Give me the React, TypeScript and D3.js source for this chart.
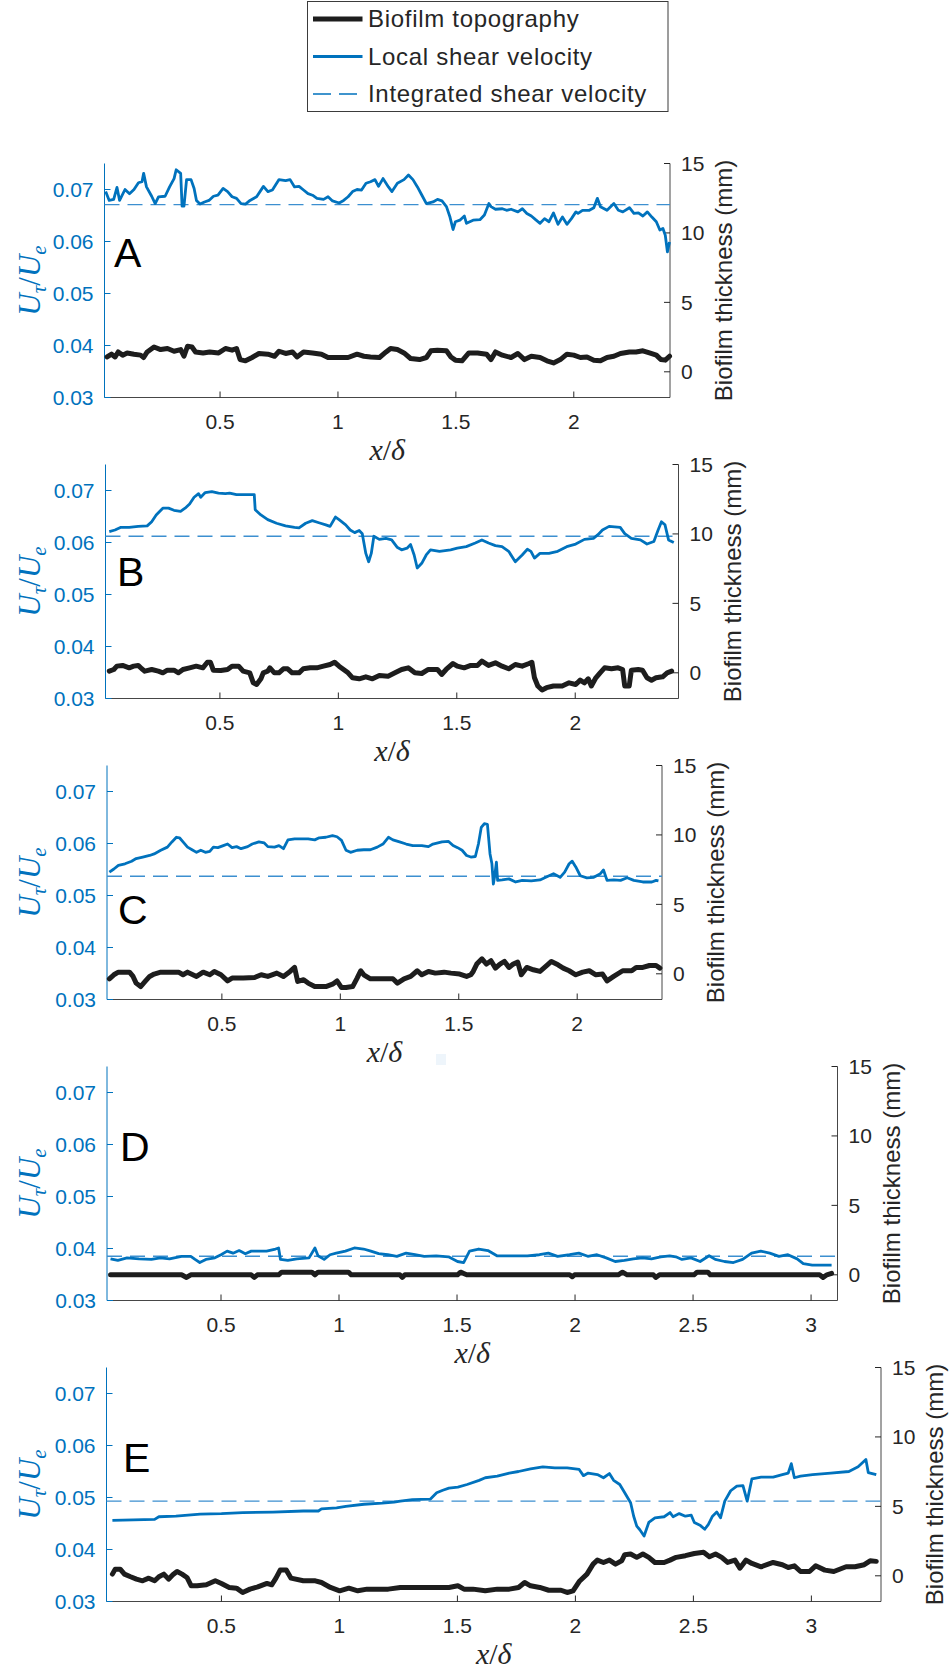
import React from "react";
import * as d3 from "d3";

type P = [number, number];

// ---------- data (x/δ, value) ----------
const aLocal: P[] = [[0.015,0.0696],[0.030,0.0679],[0.049,0.0681],[0.063,0.0704],[0.074,0.0679],[0.097,0.0700],[0.116,0.0692],[0.135,0.0700],[0.154,0.0713],[0.169,0.0715],[0.176,0.0731],[0.188,0.0705],[0.210,0.0687],[0.225,0.0673],[0.239,0.0686],[0.267,0.0687],[0.286,0.0705],[0.305,0.0721],[0.314,0.0738],[0.333,0.0731],[0.339,0.0668],[0.347,0.0668],[0.358,0.0719],[0.377,0.0719],[0.390,0.0702],[0.400,0.0679],[0.415,0.0672],[0.434,0.0676],[0.453,0.0679],[0.472,0.0687],[0.491,0.0689],[0.513,0.0702],[0.532,0.0696],[0.551,0.0686],[0.570,0.0683],[0.589,0.0673],[0.608,0.0672],[0.627,0.0679],[0.655,0.0686],[0.684,0.0706],[0.703,0.0696],[0.722,0.0699],[0.750,0.0719],[0.778,0.0717],[0.797,0.0719],[0.816,0.0705],[0.835,0.0706],[0.854,0.0699],[0.873,0.0692],[0.892,0.0689],[0.911,0.0683],[0.939,0.0681],[0.958,0.0686],[0.977,0.0678],[1.005,0.0674],[1.024,0.0679],[1.043,0.0686],[1.062,0.0696],[1.081,0.0700],[1.100,0.0699],[1.119,0.0712],[1.138,0.0715],[1.157,0.0719],[1.172,0.0706],[1.191,0.0721],[1.214,0.0705],[1.229,0.0696],[1.252,0.0712],[1.280,0.0719],[1.299,0.0728],[1.318,0.0719],[1.337,0.0705],[1.356,0.0689],[1.375,0.0673],[1.403,0.0676],[1.422,0.0681],[1.441,0.0678],[1.460,0.0667],[1.475,0.0647],[1.488,0.0623],[1.498,0.0638],[1.517,0.0641],[1.536,0.0649],[1.545,0.0635],[1.573,0.0641],[1.602,0.0642],[1.621,0.0651],[1.640,0.0673],[1.649,0.0667],[1.668,0.0662],[1.697,0.0663],[1.715,0.0660],[1.734,0.0662],[1.763,0.0657],[1.782,0.0663],[1.801,0.0654],[1.820,0.0649],[1.838,0.0642],[1.857,0.0635],[1.876,0.0644],[1.895,0.0638],[1.914,0.0655],[1.933,0.0633],[1.952,0.0647],[1.971,0.0633],[1.990,0.0644],[2.009,0.0657],[2.018,0.0654],[2.037,0.0660],[2.066,0.0660],[2.085,0.0665],[2.100,0.0683],[2.113,0.0667],[2.141,0.0660],[2.170,0.0673],[2.189,0.0660],[2.208,0.0657],[2.236,0.0665],[2.255,0.0654],[2.274,0.0655],[2.293,0.0649],[2.312,0.0657],[2.331,0.0647],[2.350,0.0638],[2.365,0.0622],[2.378,0.0625],[2.388,0.0612],[2.397,0.0580],[2.406,0.0599]];
const aBiofilm: P[] = [[0.021,1.07],[0.040,1.27],[0.055,1.07],[0.068,1.43],[0.087,1.20],[0.106,1.36],[0.135,1.27],[0.163,1.20],[0.176,1.03],[0.191,1.43],[0.220,1.79],[0.248,1.60],[0.277,1.68],[0.305,1.48],[0.333,1.60],[0.347,1.12],[0.362,1.84],[0.381,1.79],[0.396,1.43],[0.428,1.36],[0.456,1.43],[0.494,1.36],[0.523,1.68],[0.551,1.56],[0.570,1.68],[0.585,0.88],[0.608,0.79],[0.636,1.03],[0.665,1.32],[0.703,1.27],[0.731,1.12],[0.750,1.48],[0.778,1.32],[0.807,1.43],[0.826,1.07],[0.854,1.43],[0.892,1.36],[0.930,1.27],[0.958,1.03],[1.005,1.03],[1.043,1.03],[1.081,1.27],[1.110,1.12],[1.138,1.07],[1.176,1.03],[1.204,1.43],[1.223,1.68],[1.252,1.60],[1.280,1.36],[1.308,0.96],[1.346,0.88],[1.375,1.03],[1.394,1.51],[1.422,1.56],[1.460,1.51],[1.479,1.07],[1.498,0.84],[1.526,0.79],[1.555,1.36],[1.592,1.36],[1.630,1.27],[1.649,0.88],[1.668,1.43],[1.697,1.20],[1.734,1.03],[1.763,1.32],[1.791,0.88],[1.820,1.12],[1.857,1.03],[1.886,0.79],[1.914,0.64],[1.943,0.88],[1.971,1.27],[2.000,1.20],[2.028,1.03],[2.056,1.07],[2.085,0.84],[2.113,0.79],[2.141,1.03],[2.170,1.12],[2.198,1.32],[2.236,1.43],[2.264,1.43],[2.293,1.51],[2.321,1.36],[2.350,1.20],[2.369,0.88],[2.388,0.84],[2.406,1.12]];
const aIntegrated = 0.0671;

const bLocal: P[] = [[0.033,0.0621],[0.057,0.0624],[0.080,0.0629],[0.117,0.0629],[0.155,0.0631],[0.193,0.0632],[0.212,0.0640],[0.231,0.0653],[0.259,0.0666],[0.283,0.0666],[0.306,0.0662],[0.334,0.0660],[0.353,0.0666],[0.372,0.0674],[0.391,0.0687],[0.410,0.0694],[0.419,0.0687],[0.438,0.0696],[0.466,0.0698],[0.494,0.0695],[0.523,0.0694],[0.541,0.0695],[0.570,0.0692],[0.645,0.0692],[0.649,0.0663],[0.673,0.0653],[0.702,0.0644],[0.739,0.0637],[0.777,0.0632],[0.815,0.0629],[0.834,0.0628],[0.862,0.0637],[0.890,0.0642],[0.918,0.0638],[0.947,0.0634],[0.965,0.0631],[0.988,0.0649],[1.003,0.0644],[1.031,0.0634],[1.050,0.0624],[1.069,0.0619],[1.088,0.0623],[1.101,0.0617],[1.116,0.0579],[1.128,0.0563],[1.139,0.0579],[1.150,0.0612],[1.173,0.0606],[1.201,0.0608],[1.225,0.0605],[1.248,0.0591],[1.267,0.0586],[1.290,0.0589],[1.305,0.0596],[1.320,0.0576],[1.333,0.0551],[1.352,0.0560],[1.371,0.0576],[1.389,0.0586],[1.427,0.0583],[1.474,0.0586],[1.502,0.0589],[1.540,0.0592],[1.578,0.0599],[1.606,0.0605],[1.634,0.0599],[1.663,0.0594],[1.691,0.0592],[1.719,0.0583],[1.747,0.0563],[1.776,0.0576],[1.798,0.0587],[1.813,0.0583],[1.828,0.0570],[1.851,0.0579],[1.889,0.0579],[1.926,0.0583],[1.964,0.0592],[2.002,0.0597],[2.039,0.0606],[2.077,0.0608],[2.096,0.0615],[2.115,0.0624],[2.143,0.0631],[2.190,0.0629],[2.209,0.0617],[2.237,0.0608],[2.275,0.0605],[2.303,0.0597],[2.332,0.0602],[2.350,0.0624],[2.364,0.0640],[2.379,0.0634],[2.394,0.0605],[2.416,0.0600]];
const bBiofilm: P[] = [[0.033,0.12],[0.052,0.24],[0.065,0.48],[0.089,0.53],[0.117,0.36],[0.136,0.48],[0.155,0.53],[0.170,0.29],[0.183,0.12],[0.212,0.24],[0.240,0.12],[0.259,0],[0.278,0.19],[0.306,0.19],[0.325,0],[0.344,0.24],[0.372,0.36],[0.400,0.48],[0.428,0.36],[0.447,0.76],[0.460,0.76],[0.472,0.19],[0.504,0.17],[0.532,0.24],[0.551,0.48],[0.579,0.48],[0.598,0.12],[0.626,0],[0.641,-0.72],[0.655,-0.84],[0.673,-0.43],[0.683,0],[0.702,0.12],[0.711,0.36],[0.730,0],[0.749,0],[0.768,0.29],[0.786,0.29],[0.805,0],[0.834,0],[0.852,0.29],[0.881,0.36],[0.909,0.36],[0.937,0.48],[0.965,0.60],[0.984,0.76],[1.003,0.48],[1.022,0.24],[1.041,0],[1.060,-0.36],[1.088,-0.43],[1.116,-0.29],[1.144,-0.43],[1.173,-0.19],[1.210,-0.24],[1.239,0],[1.267,0.24],[1.295,0.36],[1.323,0],[1.352,-0.05],[1.380,0.24],[1.418,0.24],[1.436,-0.12],[1.455,0.24],[1.484,0.67],[1.502,0.48],[1.531,0.36],[1.559,0.53],[1.587,0.53],[1.606,0.84],[1.634,0.53],[1.663,0.72],[1.691,0.48],[1.719,0.29],[1.747,0.60],[1.776,0.48],[1.805,0.67],[1.817,0.76],[1.828,-0.36],[1.842,-0.95],[1.860,-1.24],[1.879,-1.07],[1.908,-0.95],[1.945,-0.95],[1.974,-0.72],[2.002,-0.84],[2.021,-0.53],[2.039,-0.72],[2.055,-0.43],[2.068,-0.95],[2.087,-0.36],[2.105,0],[2.124,0.36],[2.153,0.29],[2.181,0.36],[2.200,0.24],[2.209,-0.95],[2.228,-0.95],[2.237,0.19],[2.266,0.24],[2.284,0.19],[2.303,-0.36],[2.322,-0.53],[2.341,-0.36],[2.369,-0.29],[2.388,0],[2.407,0.12]];
const bIntegrated = 0.0612;

const cLocal: P[] = [[0.025,0.0545],[0.044,0.0551],[0.063,0.0558],[0.091,0.0561],[0.119,0.0566],[0.138,0.0571],[0.166,0.0574],[0.195,0.0577],[0.214,0.0580],[0.242,0.0587],[0.270,0.0593],[0.289,0.0603],[0.308,0.0612],[0.321,0.0611],[0.336,0.0603],[0.355,0.0593],[0.374,0.0588],[0.393,0.0583],[0.411,0.0587],[0.430,0.0583],[0.449,0.0585],[0.464,0.0593],[0.483,0.0592],[0.506,0.0596],[0.524,0.0599],[0.543,0.0592],[0.562,0.0594],[0.581,0.0590],[0.609,0.0594],[0.628,0.0599],[0.656,0.0603],[0.679,0.0601],[0.694,0.0594],[0.722,0.0593],[0.741,0.0596],[0.760,0.0590],[0.779,0.0607],[0.807,0.0609],[0.864,0.0609],[0.892,0.0607],[0.911,0.0611],[0.939,0.0612],[0.967,0.0615],[0.986,0.0613],[1.005,0.0606],[1.024,0.0587],[1.043,0.0583],[1.071,0.0587],[1.099,0.0588],[1.127,0.0588],[1.156,0.0593],[1.180,0.0599],[1.203,0.0612],[1.222,0.0607],[1.250,0.0603],[1.278,0.0599],[1.306,0.0596],[1.344,0.0596],[1.372,0.0594],[1.391,0.0599],[1.429,0.0603],[1.457,0.0604],[1.476,0.0596],[1.495,0.0592],[1.514,0.0587],[1.533,0.0577],[1.551,0.0574],[1.570,0.0575],[1.583,0.0599],[1.595,0.0631],[1.608,0.0638],[1.621,0.0637],[1.632,0.0580],[1.640,0.0561],[1.646,0.0522],[1.651,0.0535],[1.659,0.0564],[1.664,0.0529],[1.683,0.0530],[1.712,0.0532],[1.740,0.0526],[1.768,0.0529],[1.806,0.0528],[1.843,0.0530],[1.881,0.0538],[1.900,0.0542],[1.928,0.0535],[1.947,0.0545],[1.966,0.0561],[1.979,0.0566],[1.994,0.0555],[2.013,0.0538],[2.041,0.0534],[2.070,0.0535],[2.098,0.0542],[2.111,0.0549],[2.126,0.0529],[2.154,0.0530],[2.183,0.0529],[2.211,0.0534],[2.239,0.0529],[2.277,0.0526],[2.315,0.0526],[2.333,0.0529],[2.343,0.0528]];
const cBiofilm: P[] = [[0.025,-0.36],[0.044,-0.07],[0.063,0.12],[0.110,0.12],[0.125,-0.19],[0.138,-0.67],[0.157,-0.92],[0.176,-0.55],[0.195,-0.19],[0.214,-0.02],[0.242,0.12],[0.280,0.12],[0.317,0.12],[0.336,-0.07],[0.355,0.12],[0.393,-0.19],[0.421,0.12],[0.449,-0.07],[0.468,0.17],[0.496,-0.07],[0.524,-0.51],[0.543,-0.31],[0.590,-0.31],[0.638,-0.27],[0.666,-0.07],[0.694,-0.19],[0.732,0.05],[0.760,-0.19],[0.788,0.17],[0.807,0.46],[0.820,-0.55],[0.845,-0.43],[0.864,-0.67],[0.892,-0.92],[0.939,-0.92],[0.967,-0.75],[0.986,-0.51],[1.005,-0.99],[1.024,-0.99],[1.052,-0.92],[1.071,-0.31],[1.086,0.22],[1.099,-0.07],[1.127,-0.36],[1.184,-0.36],[1.222,-0.36],[1.241,-0.67],[1.269,-0.36],[1.297,-0.19],[1.325,0.22],[1.344,-0.07],[1.372,0.17],[1.401,0.05],[1.438,0.12],[1.467,0.05],[1.504,-0.02],[1.533,-0.19],[1.551,-0.07],[1.561,0.17],[1.576,0.70],[1.598,1.08],[1.617,0.70],[1.636,0.94],[1.655,0.41],[1.674,0.70],[1.693,0.89],[1.712,0.46],[1.730,0.70],[1.749,0.84],[1.764,-0.07],[1.787,0.46],[1.815,0.29],[1.843,0.17],[1.872,0.60],[1.891,0.89],[1.919,0.65],[1.941,0.41],[1.966,0.22],[1.994,-0.07],[2.023,0.12],[2.051,0.22],[2.079,-0.07],[2.107,-0.02],[2.126,-0.51],[2.154,-0.19],[2.192,0.22],[2.230,0.22],[2.249,0.46],[2.277,0.46],[2.305,0.60],[2.333,0.60],[2.349,0.41]];
const cIntegrated = 0.0537;

const dLocal: P[] = [[0.032,0.0380],[0.063,0.0377],[0.102,0.0382],[0.153,0.0380],[0.205,0.0379],[0.243,0.0382],[0.282,0.0380],[0.333,0.0385],[0.372,0.0385],[0.390,0.0379],[0.410,0.0373],[0.436,0.0379],[0.474,0.0382],[0.500,0.0388],[0.526,0.0395],[0.551,0.0391],[0.577,0.0396],[0.603,0.0390],[0.628,0.0395],[0.654,0.0395],[0.693,0.0395],[0.731,0.0399],[0.744,0.0401],[0.752,0.0379],[0.783,0.0377],[0.821,0.0380],[0.873,0.0382],[0.898,0.0401],[0.911,0.0386],[0.937,0.0379],[0.962,0.0388],[0.988,0.0391],[1.027,0.0395],[1.065,0.0401],[1.104,0.0399],[1.135,0.0395],[1.168,0.0390],[1.207,0.0388],[1.245,0.0385],[1.284,0.0391],[1.322,0.0388],[1.361,0.0385],[1.412,0.0386],[1.464,0.0384],[1.502,0.0375],[1.528,0.0373],[1.553,0.0395],[1.592,0.0399],[1.631,0.0396],[1.669,0.0386],[1.733,0.0386],[1.798,0.0386],[1.849,0.0388],[1.887,0.0391],[1.926,0.0385],[1.977,0.0388],[2.016,0.0391],[2.054,0.0385],[2.093,0.0388],[2.132,0.0382],[2.170,0.0375],[2.209,0.0377],[2.247,0.0380],[2.286,0.0382],[2.324,0.0380],[2.363,0.0384],[2.401,0.0386],[2.427,0.0384],[2.453,0.0379],[2.491,0.0382],[2.530,0.0375],[2.568,0.0386],[2.594,0.0379],[2.633,0.0375],[2.671,0.0373],[2.710,0.0379],[2.748,0.0391],[2.787,0.0395],[2.825,0.0391],[2.864,0.0385],[2.902,0.0388],[2.941,0.0380],[2.967,0.0371],[3.005,0.0368],[3.087,0.0368]];
const dBiofilm: P[] = [[0.032,0],[0.333,0],[0.354,-0.19],[0.372,0],[0.628,0],[0.641,-0.19],[0.654,0],[0.744,0],[0.757,0.19],[0.885,0.19],[0.898,0],[0.911,0.19],[1.040,0.19],[1.052,0],[1.258,0],[1.268,-0.19],[1.279,0],[1.502,0],[1.515,0.19],[1.541,0],[1.977,0],[1.988,-0.14],[1.998,0],[2.183,0],[2.201,0.19],[2.221,0],[2.332,0],[2.342,-0.19],[2.358,0],[2.504,0],[2.517,0.19],[2.563,0.19],[2.573,0],[3.036,0],[3.051,-0.19],[3.067,0],[3.087,0.1]];
const dIntegrated = 0.0385;

const eLocal: P[] = [[0.038,0.0456],[0.127,0.0457],[0.217,0.0458],[0.235,0.0463],[0.307,0.0464],[0.410,0.0468],[0.500,0.0469],[0.590,0.0471],[0.718,0.0472],[0.847,0.0474],[0.911,0.0474],[0.924,0.0478],[0.988,0.0480],[1.027,0.0483],[1.104,0.0487],[1.181,0.0489],[1.232,0.0491],[1.258,0.0493],[1.309,0.0496],[1.386,0.0497],[1.412,0.0509],[1.438,0.0514],[1.464,0.0518],[1.502,0.0520],[1.541,0.0525],[1.592,0.0533],[1.618,0.0538],[1.669,0.0541],[1.720,0.0547],[1.759,0.0550],[1.810,0.0555],[1.862,0.0559],[1.913,0.0557],[1.965,0.0557],[2.016,0.0554],[2.034,0.0542],[2.054,0.0547],[2.093,0.0544],[2.119,0.0538],[2.144,0.0546],[2.162,0.0533],[2.188,0.0525],[2.209,0.0509],[2.234,0.0490],[2.247,0.0464],[2.260,0.0445],[2.273,0.0438],[2.291,0.0426],[2.311,0.0452],[2.337,0.0461],[2.376,0.0463],[2.401,0.0471],[2.414,0.0463],[2.440,0.0469],[2.466,0.0464],[2.491,0.0466],[2.504,0.0452],[2.530,0.0446],[2.548,0.0439],[2.563,0.0448],[2.581,0.0464],[2.599,0.0472],[2.615,0.0461],[2.633,0.0493],[2.658,0.0513],[2.684,0.0522],[2.710,0.0523],[2.728,0.0493],[2.748,0.0536],[2.787,0.0539],[2.838,0.0539],[2.877,0.0544],[2.902,0.0547],[2.915,0.0565],[2.928,0.0538],[2.954,0.0541],[3.005,0.0544],[3.082,0.0547],[3.159,0.0550],[3.198,0.0559],[3.231,0.0573],[3.241,0.0548],[3.275,0.0544]];
const eBiofilm: P[] = [[0.038,0.12],[0.050,0.48],[0.071,0.48],[0.089,0.12],[0.115,-0.07],[0.140,-0.24],[0.166,-0.36],[0.192,-0.17],[0.217,-0.36],[0.235,-0.07],[0.256,0.12],[0.276,-0.24],[0.294,0.07],[0.312,0.31],[0.333,0.12],[0.354,-0.12],[0.372,-0.72],[0.397,-0.72],[0.436,-0.65],[0.474,-0.36],[0.500,-0.55],[0.533,-0.84],[0.564,-0.89],[0.590,-1.20],[0.621,-0.96],[0.654,-0.80],[0.693,-0.55],[0.713,-0.65],[0.731,-0.17],[0.749,0.41],[0.775,0.41],[0.795,-0.17],[0.847,-0.36],[0.898,-0.36],[0.924,-0.48],[0.962,-0.84],[1.001,-1.08],[1.040,-0.89],[1.078,-1.08],[1.117,-0.96],[1.168,-0.96],[1.207,-0.96],[1.258,-0.84],[1.309,-0.84],[1.361,-0.84],[1.412,-0.84],[1.464,-0.84],[1.502,-0.72],[1.528,-0.96],[1.566,-0.96],[1.618,-1.08],[1.669,-0.96],[1.720,-0.96],[1.759,-0.84],[1.785,-0.48],[1.810,-0.72],[1.849,-0.84],[1.887,-1.04],[1.939,-1.04],[1.965,-1.20],[1.990,-1.08],[2.016,-0.41],[2.049,0.12],[2.075,0.84],[2.093,1.13],[2.119,0.96],[2.144,1.13],[2.170,0.84],[2.196,1.08],[2.209,1.52],[2.234,1.57],[2.260,1.33],[2.286,1.57],[2.311,1.33],[2.337,0.96],[2.376,0.96],[2.401,1.13],[2.427,1.33],[2.466,1.45],[2.504,1.61],[2.543,1.69],[2.568,1.37],[2.594,1.57],[2.620,1.33],[2.645,0.96],[2.676,1.13],[2.697,0.55],[2.723,1.13],[2.748,0.89],[2.787,0.65],[2.838,0.96],[2.877,0.80],[2.902,0.60],[2.928,0.72],[2.954,0.31],[2.992,0.31],[3.018,0.72],[3.057,0.41],[3.095,0.31],[3.147,0.65],[3.185,0.65],[3.224,0.80],[3.249,1.08],[3.275,1.04]];
const eIntegrated = 0.0493;

// axis limits and ticks
const panelNames = ["A", "B", "C", "D", "E"];
const xLimitsA = [0.010, 2.408];
const xLimitsB = [0.017, 2.436];
const xLimitsC = [0.015, 2.358];
const xLimitsD = [0.017, 3.112];
const xLimitsE = [0.013, 3.295];
const leftLimits = [0.03, 0.075];
const rightLimits = [-1.85, 15];
const leftTicks = [0.03, 0.04, 0.05, 0.06, 0.07];
const leftTickLabels = ["0.03", "0.04", "0.05", "0.06", "0.07"];
const rightTicks = [0, 5, 10, 15];
const xTicksShort = [0.5, 1, 1.5, 2];
const xTicksLong = [0.5, 1, 1.5, 2, 2.5, 3];
const legendLabels = ["Biofilm topography", "Local shear velocity", "Integrated shear velocity"];

// ---------- layout / style ----------
const BLUE = "#0072BD";
const DASH = "#3c8fd0";
const BLACK = "#1d1d1d";
const GRAY = "#262626";
const SANS = "'Liberation Sans', Arial, Helvetica, sans-serif";
const SERIF = "'Liberation Serif', 'DejaVu Serif', serif";
const PLOT_H = 234;

const panels = [
  { name: panelNames[0], local: aLocal, bio: aBiofilm, integ: aIntegrated, xl: xLimitsA, ticks: xTicksShort, top: 163.5, left: 104.5, right: 670, lx: 114, ly: 103.5 },
  { name: panelNames[1], local: bLocal, bio: bBiofilm, integ: bIntegrated, xl: xLimitsB, ticks: xTicksShort, top: 464.5, left: 105.5, right: 678.5, lx: 117, ly: 121 },
  { name: panelNames[2], local: cLocal, bio: cBiofilm, integ: cIntegrated, xl: xLimitsC, ticks: xTicksShort, top: 765.5, left: 107, right: 662, lx: 118, ly: 158 },
  { name: panelNames[3], local: dLocal, bio: dBiofilm, integ: dIntegrated, xl: xLimitsD, ticks: xTicksLong, top: 1066.5, left: 107, right: 837.5, lx: 120, ly: 94 },
  { name: panelNames[4], local: eLocal, bio: eBiofilm, integ: eIntegrated, xl: xLimitsE, ticks: xTicksLong, top: 1367.5, left: 106.5, right: 881, lx: 123, ly: 104.5 },
];

function Panel({ p }: { p: typeof panels[number] }) {
  const bottom = p.top + PLOT_H;
  const x = d3.scaleLinear().domain(p.xl).range([p.left, p.right]);
  const yL = d3.scaleLinear().domain(leftLimits).range([bottom, p.top]);
  const yR = d3.scaleLinear().domain(rightLimits).range([bottom, p.top]);
  const lineL = d3.line<P>().x((d) => x(d[0])).y((d) => yL(d[1]));
  const lineR = d3.line<P>().x((d) => x(d[0])).y((d) => yR(d[1]));
  const midY = (p.top + bottom) / 2;
  const midX = (p.left + p.right) / 2;
  const fmtR = d3.format("d");
  return (
    <g>
      {/* axes */}
      <line x1={p.left} x2={p.right} y1={bottom} y2={bottom} stroke={GRAY} strokeWidth={1} opacity={0.85} />
      <line x1={p.right} x2={p.right} y1={p.top} y2={bottom} stroke={GRAY} strokeWidth={1} opacity={0.85} />
      <line x1={p.left} x2={p.left} y1={p.top} y2={bottom} stroke={BLUE} strokeWidth={1} />
      {leftTicks.map((t, i) => (
        <g key={"l" + i}>
          <line x1={p.left} x2={p.left + 6} y1={yL(t)} y2={yL(t)} stroke={BLUE} strokeWidth={1} />
          <text x={p.left - 11} y={yL(t) + 7.5} textAnchor="end" fontFamily={SANS} fontSize={21} fill={BLUE}>{leftTickLabels[i]}</text>
        </g>
      ))}
      {rightTicks.map((t, i) => (
        <g key={"r" + i}>
          <line x1={p.right - 6} x2={p.right} y1={yR(t)} y2={yR(t)} stroke={GRAY} strokeWidth={1} />
          <text x={p.right + 11} y={yR(t) + 7.5} textAnchor="start" fontFamily={SANS} fontSize={21} fill={GRAY}>{fmtR(t)}</text>
        </g>
      ))}
      {p.ticks.map((t, i) => (
        <g key={"x" + i}>
          <line x1={x(t)} x2={x(t)} y1={bottom} y2={bottom - 6} stroke={GRAY} strokeWidth={1} />
          <text x={x(t)} y={bottom + 31} textAnchor="middle" fontFamily={SANS} fontSize={21} fill={GRAY}>{String(t)}</text>
        </g>
      ))}
      {/* data */}
      <line x1={p.left} x2={p.right} y1={yL(p.integ)} y2={yL(p.integ)} stroke={DASH} strokeWidth={1.4} strokeDasharray="15 8" />
      <path d={lineR(p.bio) || ""} fill="none" stroke={BLACK} strokeWidth={5} strokeLinejoin="round" strokeLinecap="round" />
      <path d={lineL(p.local) || ""} fill="none" stroke={BLUE} strokeWidth={2.8} strokeLinejoin="round" />
      {/* labels */}
      <text x={p.lx} y={p.top + p.ly} fontFamily={SANS} fontSize={41} fill="#000">{p.name}</text>
      <text x={midX} y={bottom + 62} textAnchor="middle" fontFamily={SERIF} fontSize={30} fill={GRAY}>
        <tspan fontStyle="italic">x</tspan><tspan>/</tspan><tspan fontStyle="italic">δ</tspan>
      </text>
      <text transform={`translate(40,${midY}) rotate(-90)`} textAnchor="middle" fontFamily={SERIF} fontSize={31} fill={BLUE}>
        <tspan fontStyle="italic">U</tspan>
        <tspan fontStyle="italic" fontSize={21} dy={6}>τ</tspan>
        <tspan dy={-6}>/</tspan>
        <tspan fontStyle="italic">U</tspan>
        <tspan fontStyle="italic" fontSize={21} dy={6}>e</tspan>
      </text>
      <text transform={`translate(${p.right + 62},${midY}) rotate(-90)`} textAnchor="middle" fontFamily={SANS} fontSize={24} fill={GRAY}>
        Biofilm thickness (mm)
      </text>
    </g>
  );
}

function Legend() {
  const left = 307.5, right = 668, top = 1.5, bottom = 111.5;
  const rows = d3.scaleLinear().domain([0, 2]).range([27, 102]);
  return (
    <g>
      <rect x={left} y={top} width={right - left} height={bottom - top} fill="#fff" stroke={GRAY} strokeWidth={1} opacity={0.9} />
      <line x1={313} x2={362.5} y1={rows(0) - 8} y2={rows(0) - 8} stroke={BLACK} strokeWidth={5} />
      <line x1={313} x2={362.5} y1={rows(1) - 8} y2={rows(1) - 8} stroke={BLUE} strokeWidth={2.8} />
      <line x1={313} x2={362.5} y1={rows(2) - 8} y2={rows(2) - 8} stroke={BLUE} strokeWidth={1.4} strokeDasharray="18 8" />
      {legendLabels.map((l, i) => (
        <text key={i} x={368} y={rows(i)} fontFamily={SANS} fontSize={24} letterSpacing={0.7} fill={GRAY}>{l}</text>
      ))}
    </g>
  );
}

export default function App() {
  return (
    <svg width={951} height={1675} style={{ position: "absolute", left: 0, top: 0, background: "#fff" }}>
      <rect x={0} y={0} width={951} height={1675} fill="#fff" />
      <Legend />
      {panels.map((p) => (
        <Panel key={p.name} p={p} />
      ))}
      <rect x={436} y={1054} width={10} height={11} fill="#eef5fb" />
    </svg>
  );
}
